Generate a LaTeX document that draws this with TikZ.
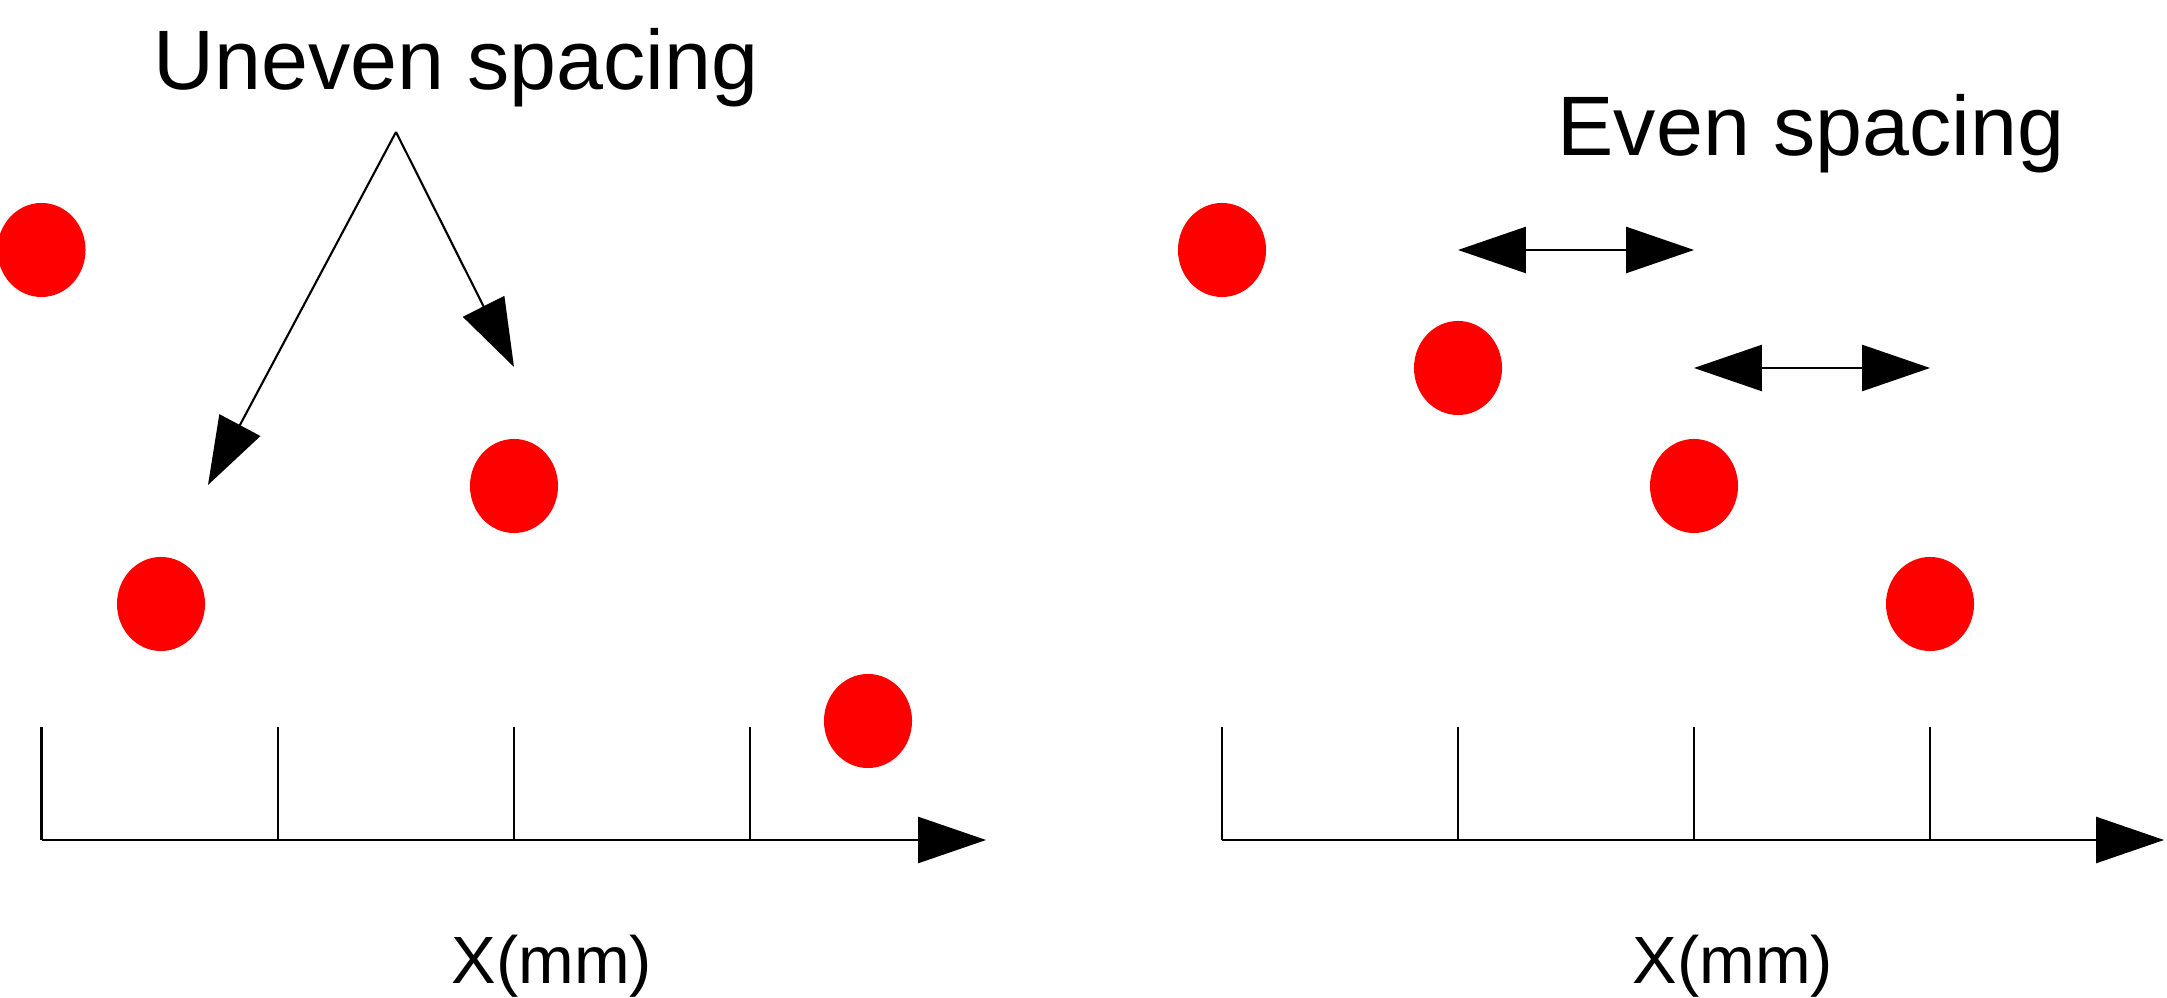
\documentclass[tikz,border=0pt]{standalone}
\usepackage{fontspec}
\setmainfont{Liberation Sans}
\usetikzlibrary{arrows.meta, shapes.geometric}

\begin{document}
\begin{tikzpicture}[x=0.01cm, y=-0.01cm, line width=0.6pt,
    dot/.style={ellipse, fill=red, inner sep=0pt, minimum width=0.88cm, minimum height=0.94cm},
    pointer/.style={-{Triangle[length=19.3pt, width=13.1pt]}},
    twoway/.style={{Triangle[length=19.3pt, width=13.1pt]}-{Triangle[length=19.3pt, width=13.1pt]}},
    bigtext/.style={anchor=base, font=\fontsize{24}{28}\selectfont},
    axislabel/.style={anchor=base, font=\fontsize{19}{22}\selectfont}]
    \useasboundingbox (0,0) rectangle (2167,998);

    % uneven spacing
    \coordinate (lo) at (41.5,840);
    \coordinate (lend) at (986,840);
    \coordinate (lt1) at (41.5,727);
    \coordinate (lt2) at (278,727);
    \coordinate (lt3) at (514,727);
    \coordinate (lt4) at (750,727);
    \draw[pointer] (lo) -- (lend);
    \draw (lt1) -- (lt1 |- lo);
    \draw (lt2) -- (lt2 |- lo);
    \draw (lt3) -- (lt3 |- lo);
    \draw (lt4) -- (lt4 |- lo);

    \node[dot] (u1) at (41.5,250) {};
    \node[dot] (u2) at (161,604) {};
    \node[dot] (u3) at (514,486) {};
    \node[dot] (u4) at (868,721) {};

    \node[bigtext] (uneven) at (456,90) {Uneven spacing};
    \coordinate (apex) at (396,132);
    \coordinate (aim1) at (208,485);
    \coordinate (aim2) at (514,367);
    \draw[pointer] (apex) -- (aim1);
    \draw[pointer] (apex) -- (aim2);
    \node[axislabel] (lxlabel) at (552,983) {X(mm)};

    % even spacing
    \coordinate (ro) at (1222,840);
    \coordinate (rend) at (2164,840);
    \coordinate (rt1) at (1222,727);
    \coordinate (rt2) at (1458,727);
    \coordinate (rt3) at (1694,727);
    \coordinate (rt4) at (1930,727);
    \draw[pointer] (ro) -- (rend);
    \draw (rt1) -- (rt1 |- ro);
    \draw (rt2) -- (rt2 |- ro);
    \draw (rt3) -- (rt3 |- ro);
    \draw (rt4) -- (rt4 |- ro);

    \node[dot] (e1) at (1222,250) {};
    \node[dot] (e2) at (1458,368) {};
    \node[dot] (e3) at (1694,486) {};
    \node[dot] (e4) at (1930,604) {};

    \node[bigtext] (even) at (1811,156) {Even spacing};
    \draw[twoway] (e2 |- e1) -- (e3 |- e1);
    \draw[twoway] (e3 |- e2) -- (e4 |- e2);
    \node[axislabel] (rxlabel) at (1733,983) {X(mm)};
\end{tikzpicture}
\end{document}
